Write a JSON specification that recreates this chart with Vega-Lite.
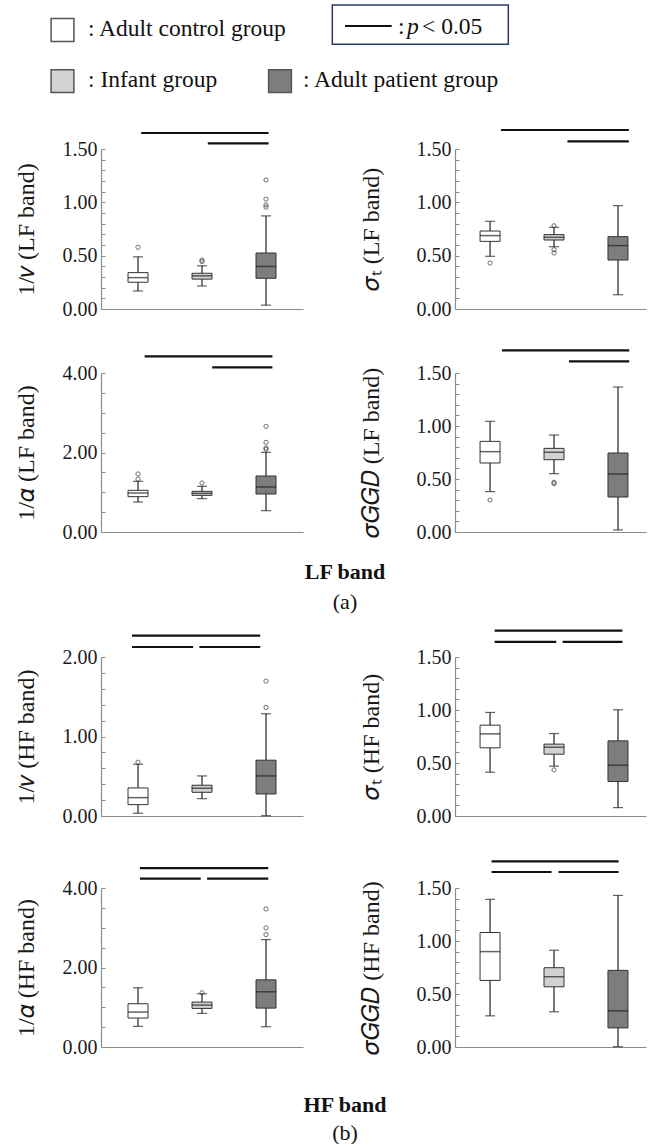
{
"$schema": "https://vega.github.io/schema/vega-lite/v6.json",
"padding": {"left": 14, "top": 4, "right": 0, "bottom": 0},
"background": "white",
"datasets": {
"legend": [
 {"kind":"sq","group":"Adult control group","x":62.5,"y":30},
 {"kind":"sq","group":"Infant group","x":62.5,"y":81.2},
 {"kind":"sq","group":"Adult patient group","x":280,"y":81.2},
 {"kind":"lab","text":": Adult control group","x":88,"y":36},
 {"kind":"lab","text":": Infant group","x":88,"y":86.7},
 {"kind":"lab","text":": Adult patient group","x":303,"y":86.7},
 {"kind":"lab","text":":","x":398,"y":33.5},
 {"kind":"ital","text":"p","x":407,"y":33.5},
 {"kind":"lab","text":"< 0.05","x":422,"y":33.5},
 {"kind":"box","x":332.3,"x2":508.3,"y":5,"y2":44.3},
 {"kind":"line","x":345,"x2":391.7,"y":26}
],
"boxes": [
 {"panel":"p1","group":"Adult control group","idx":1,"lo":0.169,"q1":0.251,"med":0.294,"q3":0.341,"hi":0.489},
 {"panel":"p1","group":"Infant group","idx":2,"lo":0.216,"q1":0.28,"med":0.311,"q3":0.335,"hi":0.405},
 {"panel":"p1","group":"Adult patient group","idx":3,"lo":0.036,"q1":0.288,"med":0.399,"q3":0.525,"hi":0.873},
 {"panel":"p2","group":"Adult control group","idx":1,"lo":0.494,"q1":0.634,"med":0.688,"q3":0.731,"hi":0.822},
 {"panel":"p2","group":"Infant group","idx":2,"lo":0.584,"q1":0.647,"med":0.672,"q3":0.697,"hi":0.766},
 {"panel":"p2","group":"Adult patient group","idx":3,"lo":0.134,"q1":0.459,"med":0.594,"q3":0.678,"hi":0.969},
 {"panel":"p3","group":"Adult control group","idx":1,"lo":0.755,"q1":0.889,"med":0.981,"q3":1.048,"hi":1.275},
 {"panel":"p3","group":"Infant group","idx":2,"lo":0.839,"q1":0.922,"med":0.973,"q3":1.023,"hi":1.149},
 {"panel":"p3","group":"Adult patient group","idx":3,"lo":0.537,"q1":0.956,"med":1.132,"q3":1.409,"hi":2.004},
 {"panel":"p4","group":"Adult control group","idx":1,"lo":0.381,"q1":0.651,"med":0.758,"q3":0.855,"hi":1.044},
 {"panel":"p4","group":"Infant group","idx":2,"lo":0.55,"q1":0.682,"med":0.752,"q3":0.789,"hi":0.915},
 {"panel":"p4","group":"Adult patient group","idx":3,"lo":0.019,"q1":0.33,"med":0.547,"q3":0.745,"hi":1.368},
 {"panel":"p5","group":"Adult control group","idx":1,"lo":0.034,"q1":0.143,"med":0.231,"q3":0.353,"hi":0.651},
 {"panel":"p5","group":"Infant group","idx":2,"lo":0.218,"q1":0.298,"med":0.349,"q3":0.387,"hi":0.504},
 {"panel":"p5","group":"Adult patient group","idx":3,"lo":0.004,"q1":0.277,"med":0.504,"q3":0.702,"hi":1.286},
 {"panel":"p6","group":"Adult control group","idx":1,"lo":0.413,"q1":0.643,"med":0.775,"q3":0.857,"hi":0.977},
 {"panel":"p6","group":"Infant group","idx":2,"lo":0.47,"q1":0.583,"med":0.649,"q3":0.678,"hi":0.778},
 {"panel":"p6","group":"Adult patient group","idx":3,"lo":0.079,"q1":0.325,"med":0.479,"q3":0.709,"hi":1.002},
 {"panel":"p7","group":"Adult control group","idx":1,"lo":0.519,"q1":0.728,"med":0.879,"q3":1.088,"hi":1.49},
 {"panel":"p7","group":"Infant group","idx":2,"lo":0.845,"q1":0.971,"med":1.054,"q3":1.13,"hi":1.339},
 {"panel":"p7","group":"Adult patient group","idx":3,"lo":0.51,"q1":0.979,"med":1.389,"q3":1.69,"hi":2.703},
 {"panel":"p8","group":"Adult control group","idx":1,"lo":0.294,"q1":0.628,"med":0.9,"q3":1.08,"hi":1.393},
 {"panel":"p8","group":"Infant group","idx":2,"lo":0.332,"q1":0.568,"med":0.663,"q3":0.748,"hi":0.913},
 {"panel":"p8","group":"Adult patient group","idx":3,"lo":0.003,"q1":0.18,"med":0.341,"q3":0.723,"hi":1.43}
],
"outliers": [
 {"panel":"p1","idx":1,"v":0.579},{"panel":"p1","idx":2,"v":0.445},{"panel":"p1","idx":2,"v":0.459},
 {"panel":"p1","idx":3,"v":0.955},{"panel":"p1","idx":3,"v":0.975},{"panel":"p1","idx":3,"v":1.03},{"panel":"p1","idx":3,"v":1.21},
 {"panel":"p2","idx":1,"v":0.431},{"panel":"p2","idx":2,"v":0.78},{"panel":"p2","idx":2,"v":0.556},{"panel":"p2","idx":2,"v":0.525},
 {"panel":"p3","idx":1,"v":1.33},{"panel":"p3","idx":1,"v":1.46},{"panel":"p3","idx":2,"v":1.233},
 {"panel":"p3","idx":3,"v":2.08},{"panel":"p3","idx":3,"v":2.113},{"panel":"p3","idx":3,"v":2.256},{"panel":"p3","idx":3,"v":2.658},
 {"panel":"p4","idx":1,"v":0.302},{"panel":"p4","idx":2,"v":0.456},{"panel":"p4","idx":2,"v":0.469},
 {"panel":"p5","idx":1,"v":0.676},{"panel":"p5","idx":3,"v":1.366},{"panel":"p5","idx":3,"v":1.697},
 {"panel":"p6","idx":2,"v":0.435},
 {"panel":"p7","idx":2,"v":1.364},{"panel":"p7","idx":3,"v":2.828},{"panel":"p7","idx":3,"v":2.996},{"panel":"p7","idx":3,"v":3.473}
],
"sig": [
 {"panel":"p1","x1":1.05,"x2":3.04,"y":1.65},{"panel":"p1","x1":2.09,"x2":3.04,"y":1.553},
 {"panel":"p2","x1":1.17,"x2":3.17,"y":1.678},{"panel":"p2","x1":2.21,"x2":3.17,"y":1.572},
 {"panel":"p3","x1":1.104,"x2":3.1,"y":4.419},{"panel":"p3","x1":2.16,"x2":3.1,"y":4.143},
 {"panel":"p4","x1":1.186,"x2":3.176,"y":1.714},{"panel":"p4","x1":2.234,"x2":3.176,"y":1.61},
 {"panel":"p5","x1":0.906,"x2":2.91,"y":2.269},{"panel":"p5","x1":0.906,"x2":1.862,"y":2.126},{"panel":"p5","x1":1.96,"x2":2.91,"y":2.126},
 {"panel":"p6","x1":1.072,"x2":3.07,"y":1.749},{"panel":"p6","x1":1.072,"x2":2.035,"y":1.642},{"panel":"p6","x1":2.134,"x2":3.07,"y":1.642},
 {"panel":"p7","x1":1.03,"x2":3.035,"y":4.502},{"panel":"p7","x1":1.03,"x2":1.98,"y":4.234},{"panel":"p7","x1":2.08,"x2":3.035,"y":4.234},
 {"panel":"p8","x1":1.023,"x2":3.01,"y":1.752},{"panel":"p8","x1":1.023,"x2":1.961,"y":1.651},{"panel":"p8","x1":2.07,"x2":3.01,"y":1.651}
]
},
"vconcat": [
 {
  "width": 547, "height": 90,
  "layer": [
   {"data":{"name":"legend"},"transform":[{"filter":"datum.kind==='box'"}],
    "mark":{"type":"rect","fill":null,"stroke":"#2b3a6b","strokeWidth":1.5},
    "encoding":{"x":{"field":"x","type":"quantitative","scale":{"domain":[101,648],"nice":false,"zero":false},"axis":null},
                "x2":{"field":"x2"},
                "y":{"field":"y","type":"quantitative","scale":{"domain":[4,94],"reverse":true,"nice":false,"zero":false},"axis":null},
                "y2":{"field":"y2"}}},
   {"data":{"name":"legend"},"transform":[{"filter":"datum.kind==='line'"}],
    "mark":{"type":"rule","color":"#111","strokeWidth":2},
    "encoding":{"x":{"field":"x","type":"quantitative"},"x2":{"field":"x2"},"y":{"field":"y","type":"quantitative"}}},
   {"data":{"name":"legend"},"transform":[{"filter":"datum.kind==='sq'"}],
    "mark":{"type":"point","shape":"square","size":520,"filled":true,"stroke":"#555","strokeWidth":1.5,"opacity":1},
    "encoding":{"x":{"field":"x","type":"quantitative"},"y":{"field":"y","type":"quantitative"},
                "fill":{"field":"group","type":"nominal","scale":{"domain":["Adult control group","Infant group","Adult patient group"],"range":["#ffffff","#d2d2d2","#7d7d7d"]},"legend":null}}},
   {"data":{"name":"legend"},"transform":[{"filter":"datum.kind==='lab'"}],
    "mark":{"type":"text","align":"left","baseline":"alphabetic","font":"Liberation Serif","fontSize":23.5,"color":"#111"},
    "encoding":{"x":{"field":"x","type":"quantitative"},"y":{"field":"y","type":"quantitative"},"text":{"field":"text"}}},
   {"data":{"name":"legend"},"transform":[{"filter":"datum.kind==='ital'"}],
    "mark":{"type":"text","align":"left","baseline":"alphabetic","font":"Liberation Serif","fontStyle":"italic","fontSize":23.5,"color":"#111"},
    "encoding":{"x":{"field":"x","type":"quantitative"},"y":{"field":"y","type":"quantitative"},"text":{"field":"text"}}}
  ]
 },
 {
  "spacing": 16,
  "vconcat": [
   {
    "spacing": 30,
    "title": {"text":"LF band","subtitle":"(a)","orient":"bottom","anchor":"middle","offset":20,"dx":15,"font":"Liberation Serif","fontSize":22,"fontWeight":"bold","color":"#111","subtitleFont":"Liberation Serif","subtitleFontSize":22,"subtitleColor":"#111","subtitlePadding":8},
    "vconcat": [
     {"spacing": 56, "hconcat": [
      {"width":202,"height":160,"layer":[
        {"data":{"name":"boxes"},"transform":[{"filter":"datum.panel==='p1'"}],"mark":{"type":"rule","color":"#222","strokeWidth":1.2},
         "encoding":{"x":{"field":"idx","type":"quantitative","scale":{"domain":[0.5,3.5],"nice":false,"zero":false},"axis":{"title":null,"labels":false,"ticks":false}},
                     "y":{"field":"lo","type":"quantitative","scale":{"domain":[0,1.5],"nice":false,"zero":false},"axis":{"title":"1/𝑣 (LF band)","titlePadding":23,"tickCount":100,"labelOverlap":false,"values":[0,0.1,0.2,0.3,0.4,0.5,0.6,0.7,0.8,0.9,1,1.1,1.2,1.3,1.4,1.5],"labelExpr":"abs(round(datum.value*2)-datum.value*2)<0.001 ? format(datum.value,'.2f') : ''"}},
                     "y2":{"field":"hi"}}},
        {"data":{"name":"boxes"},"transform":[{"filter":"datum.panel==='p1'"}],"mark":{"type":"tick","orient":"horizontal","size":10,"thickness":1.2,"color":"#222"},"encoding":{"x":{"field":"idx","type":"quantitative"},"y":{"field":"lo","type":"quantitative"}}},
        {"data":{"name":"boxes"},"transform":[{"filter":"datum.panel==='p1'"}],"mark":{"type":"tick","orient":"horizontal","size":10,"thickness":1.2,"color":"#222"},"encoding":{"x":{"field":"idx","type":"quantitative"},"y":{"field":"hi","type":"quantitative"}}},
        {"data":{"name":"boxes"},"transform":[{"filter":"datum.panel==='p1'"}],"mark":{"type":"bar","size":20,"stroke":"#333","strokeWidth":1},"encoding":{"x":{"field":"idx","type":"quantitative"},"y":{"field":"q1","type":"quantitative"},"y2":{"field":"q3"},"fill":{"field":"group","type":"nominal","legend":null}}},
        {"data":{"name":"boxes"},"transform":[{"filter":"datum.panel==='p1'"}],"mark":{"type":"tick","orient":"horizontal","size":20,"thickness":1.5,"color":"#222"},"encoding":{"x":{"field":"idx","type":"quantitative"},"y":{"field":"med","type":"quantitative"}}},
        {"data":{"name":"outliers"},"transform":[{"filter":"datum.panel==='p1'"}],"mark":{"type":"point","shape":"circle","size":18,"filled":false,"stroke":"#333","strokeWidth":1},"encoding":{"x":{"field":"idx","type":"quantitative"},"y":{"field":"v","type":"quantitative"}}},
        {"data":{"name":"sig"},"transform":[{"filter":"datum.panel==='p1'"}],"mark":{"type":"rule","color":"#111","strokeWidth":2.2},"encoding":{"x":{"field":"x1","type":"quantitative"},"x2":{"field":"x2"},"y":{"field":"y","type":"quantitative"}}}
      ]},
      {"width":191,"height":160,"layer":[
        {"data":{"name":"boxes"},"transform":[{"filter":"datum.panel==='p2'"}],"mark":{"type":"rule","color":"#222","strokeWidth":1.2},
         "encoding":{"x":{"field":"idx","type":"quantitative","scale":{"domain":[0.53,3.36],"nice":false,"zero":false},"axis":{"title":null,"labels":false,"ticks":false}},
                     "y":{"field":"lo","type":"quantitative","scale":{"domain":[0,1.5],"nice":false,"zero":false},"axis":{"title":"𝜎ₜ (LF band)","titlePadding":32,"tickCount":100,"labelOverlap":false,"values":[0,0.1,0.2,0.3,0.4,0.5,0.6,0.7,0.8,0.9,1,1.1,1.2,1.3,1.4,1.5],"labelExpr":"abs(round(datum.value*2)-datum.value*2)<0.001 ? format(datum.value,'.2f') : ''"}},
                     "y2":{"field":"hi"}}},
        {"data":{"name":"boxes"},"transform":[{"filter":"datum.panel==='p2'"}],"mark":{"type":"tick","orient":"horizontal","size":10,"thickness":1.2,"color":"#222"},"encoding":{"x":{"field":"idx","type":"quantitative"},"y":{"field":"lo","type":"quantitative"}}},
        {"data":{"name":"boxes"},"transform":[{"filter":"datum.panel==='p2'"}],"mark":{"type":"tick","orient":"horizontal","size":10,"thickness":1.2,"color":"#222"},"encoding":{"x":{"field":"idx","type":"quantitative"},"y":{"field":"hi","type":"quantitative"}}},
        {"data":{"name":"boxes"},"transform":[{"filter":"datum.panel==='p2'"}],"mark":{"type":"bar","size":20,"stroke":"#333","strokeWidth":1},"encoding":{"x":{"field":"idx","type":"quantitative"},"y":{"field":"q1","type":"quantitative"},"y2":{"field":"q3"},"fill":{"field":"group","type":"nominal","legend":null}}},
        {"data":{"name":"boxes"},"transform":[{"filter":"datum.panel==='p2'"}],"mark":{"type":"tick","orient":"horizontal","size":20,"thickness":1.5,"color":"#222"},"encoding":{"x":{"field":"idx","type":"quantitative"},"y":{"field":"med","type":"quantitative"}}},
        {"data":{"name":"outliers"},"transform":[{"filter":"datum.panel==='p2'"}],"mark":{"type":"point","shape":"circle","size":18,"filled":false,"stroke":"#333","strokeWidth":1},"encoding":{"x":{"field":"idx","type":"quantitative"},"y":{"field":"v","type":"quantitative"}}},
        {"data":{"name":"sig"},"transform":[{"filter":"datum.panel==='p2'"}],"mark":{"type":"rule","color":"#111","strokeWidth":2.2},"encoding":{"x":{"field":"x1","type":"quantitative"},"x2":{"field":"x2"},"y":{"field":"y","type":"quantitative"}}}
      ]}
     ]},
     {"spacing": 56, "hconcat": [
      {"width":202,"height":159,"layer":[
        {"data":{"name":"boxes"},"transform":[{"filter":"datum.panel==='p3'"}],"mark":{"type":"rule","color":"#222","strokeWidth":1.2},
         "encoding":{"x":{"field":"idx","type":"quantitative","scale":{"domain":[0.5,3.5],"nice":false,"zero":false},"axis":{"title":null,"labels":false,"ticks":false}},
                     "y":{"field":"lo","type":"quantitative","scale":{"domain":[0,4],"nice":false,"zero":false},"axis":{"title":"1/𝛼 (LF band)","titlePadding":23,"tickCount":100,"labelOverlap":false,"values":[0,0.5,1,1.5,2,2.5,3,3.5,4],"labelExpr":"abs(round(datum.value*0.5)-datum.value*0.5)<0.001 ? format(datum.value,'.2f') : ''"}},
                     "y2":{"field":"hi"}}},
        {"data":{"name":"boxes"},"transform":[{"filter":"datum.panel==='p3'"}],"mark":{"type":"tick","orient":"horizontal","size":10,"thickness":1.2,"color":"#222"},"encoding":{"x":{"field":"idx","type":"quantitative"},"y":{"field":"lo","type":"quantitative"}}},
        {"data":{"name":"boxes"},"transform":[{"filter":"datum.panel==='p3'"}],"mark":{"type":"tick","orient":"horizontal","size":10,"thickness":1.2,"color":"#222"},"encoding":{"x":{"field":"idx","type":"quantitative"},"y":{"field":"hi","type":"quantitative"}}},
        {"data":{"name":"boxes"},"transform":[{"filter":"datum.panel==='p3'"}],"mark":{"type":"bar","size":20,"stroke":"#333","strokeWidth":1},"encoding":{"x":{"field":"idx","type":"quantitative"},"y":{"field":"q1","type":"quantitative"},"y2":{"field":"q3"},"fill":{"field":"group","type":"nominal","legend":null}}},
        {"data":{"name":"boxes"},"transform":[{"filter":"datum.panel==='p3'"}],"mark":{"type":"tick","orient":"horizontal","size":20,"thickness":1.5,"color":"#222"},"encoding":{"x":{"field":"idx","type":"quantitative"},"y":{"field":"med","type":"quantitative"}}},
        {"data":{"name":"outliers"},"transform":[{"filter":"datum.panel==='p3'"}],"mark":{"type":"point","shape":"circle","size":18,"filled":false,"stroke":"#333","strokeWidth":1},"encoding":{"x":{"field":"idx","type":"quantitative"},"y":{"field":"v","type":"quantitative"}}},
        {"data":{"name":"sig"},"transform":[{"filter":"datum.panel==='p3'"}],"mark":{"type":"rule","color":"#111","strokeWidth":2.2},"encoding":{"x":{"field":"x1","type":"quantitative"},"x2":{"field":"x2"},"y":{"field":"y","type":"quantitative"}}}
      ]},
      {"width":191,"height":159,"layer":[
        {"data":{"name":"boxes"},"transform":[{"filter":"datum.panel==='p4'"}],"mark":{"type":"rule","color":"#222","strokeWidth":1.2},
         "encoding":{"x":{"field":"idx","type":"quantitative","scale":{"domain":[0.53,3.36],"nice":false,"zero":false},"axis":{"title":null,"labels":false,"ticks":false}},
                     "y":{"field":"lo","type":"quantitative","scale":{"domain":[0,1.5],"nice":false,"zero":false},"axis":{"title":"𝜎𝐺𝐺𝐷 (LF band)","titlePadding":32,"tickCount":100,"labelOverlap":false,"values":[0,0.1,0.2,0.3,0.4,0.5,0.6,0.7,0.8,0.9,1,1.1,1.2,1.3,1.4,1.5],"labelExpr":"abs(round(datum.value*2)-datum.value*2)<0.001 ? format(datum.value,'.2f') : ''"}},
                     "y2":{"field":"hi"}}},
        {"data":{"name":"boxes"},"transform":[{"filter":"datum.panel==='p4'"}],"mark":{"type":"tick","orient":"horizontal","size":10,"thickness":1.2,"color":"#222"},"encoding":{"x":{"field":"idx","type":"quantitative"},"y":{"field":"lo","type":"quantitative"}}},
        {"data":{"name":"boxes"},"transform":[{"filter":"datum.panel==='p4'"}],"mark":{"type":"tick","orient":"horizontal","size":10,"thickness":1.2,"color":"#222"},"encoding":{"x":{"field":"idx","type":"quantitative"},"y":{"field":"hi","type":"quantitative"}}},
        {"data":{"name":"boxes"},"transform":[{"filter":"datum.panel==='p4'"}],"mark":{"type":"bar","size":20,"stroke":"#333","strokeWidth":1},"encoding":{"x":{"field":"idx","type":"quantitative"},"y":{"field":"q1","type":"quantitative"},"y2":{"field":"q3"},"fill":{"field":"group","type":"nominal","legend":null}}},
        {"data":{"name":"boxes"},"transform":[{"filter":"datum.panel==='p4'"}],"mark":{"type":"tick","orient":"horizontal","size":20,"thickness":1.5,"color":"#222"},"encoding":{"x":{"field":"idx","type":"quantitative"},"y":{"field":"med","type":"quantitative"}}},
        {"data":{"name":"outliers"},"transform":[{"filter":"datum.panel==='p4'"}],"mark":{"type":"point","shape":"circle","size":18,"filled":false,"stroke":"#333","strokeWidth":1},"encoding":{"x":{"field":"idx","type":"quantitative"},"y":{"field":"v","type":"quantitative"}}},
        {"data":{"name":"sig"},"transform":[{"filter":"datum.panel==='p4'"}],"mark":{"type":"rule","color":"#111","strokeWidth":2.2},"encoding":{"x":{"field":"x1","type":"quantitative"},"x2":{"field":"x2"},"y":{"field":"y","type":"quantitative"}}}
      ]}
     ]}
    ]
   },
   {
    "spacing": 34,
    "title": {"text":"HF band","subtitle":"(b)","orient":"bottom","anchor":"middle","offset":38,"dx":15,"font":"Liberation Serif","fontSize":22,"fontWeight":"bold","color":"#111","subtitleFont":"Liberation Serif","subtitleFontSize":22,"subtitleColor":"#111","subtitlePadding":6},
    "vconcat": [
     {"spacing": 56, "hconcat": [
      {"width":202,"height":159,"layer":[
        {"data":{"name":"boxes"},"transform":[{"filter":"datum.panel==='p5'"}],"mark":{"type":"rule","color":"#222","strokeWidth":1.2},
         "encoding":{"x":{"field":"idx","type":"quantitative","scale":{"domain":[0.5,3.5],"nice":false,"zero":false},"axis":{"title":null,"labels":false,"ticks":false}},
                     "y":{"field":"lo","type":"quantitative","scale":{"domain":[0,2],"nice":false,"zero":false},"axis":{"title":"1/𝑣 (HF band)","titlePadding":23,"tickCount":100,"labelOverlap":false,"values":[0,0.2,0.4,0.6,0.8,1,1.2,1.4,1.6,1.8,2],"labelExpr":"abs(round(datum.value)-datum.value)<0.001 ? format(datum.value,'.2f') : ''"}},
                     "y2":{"field":"hi"}}},
        {"data":{"name":"boxes"},"transform":[{"filter":"datum.panel==='p5'"}],"mark":{"type":"tick","orient":"horizontal","size":10,"thickness":1.2,"color":"#222"},"encoding":{"x":{"field":"idx","type":"quantitative"},"y":{"field":"lo","type":"quantitative"}}},
        {"data":{"name":"boxes"},"transform":[{"filter":"datum.panel==='p5'"}],"mark":{"type":"tick","orient":"horizontal","size":10,"thickness":1.2,"color":"#222"},"encoding":{"x":{"field":"idx","type":"quantitative"},"y":{"field":"hi","type":"quantitative"}}},
        {"data":{"name":"boxes"},"transform":[{"filter":"datum.panel==='p5'"}],"mark":{"type":"bar","size":20,"stroke":"#333","strokeWidth":1},"encoding":{"x":{"field":"idx","type":"quantitative"},"y":{"field":"q1","type":"quantitative"},"y2":{"field":"q3"},"fill":{"field":"group","type":"nominal","legend":null}}},
        {"data":{"name":"boxes"},"transform":[{"filter":"datum.panel==='p5'"}],"mark":{"type":"tick","orient":"horizontal","size":20,"thickness":1.5,"color":"#222"},"encoding":{"x":{"field":"idx","type":"quantitative"},"y":{"field":"med","type":"quantitative"}}},
        {"data":{"name":"outliers"},"transform":[{"filter":"datum.panel==='p5'"}],"mark":{"type":"point","shape":"circle","size":18,"filled":false,"stroke":"#333","strokeWidth":1},"encoding":{"x":{"field":"idx","type":"quantitative"},"y":{"field":"v","type":"quantitative"}}},
        {"data":{"name":"sig"},"transform":[{"filter":"datum.panel==='p5'"}],"mark":{"type":"rule","color":"#111","strokeWidth":2.2},"encoding":{"x":{"field":"x1","type":"quantitative"},"x2":{"field":"x2"},"y":{"field":"y","type":"quantitative"}}}
      ]},
      {"width":191,"height":159,"layer":[
        {"data":{"name":"boxes"},"transform":[{"filter":"datum.panel==='p6'"}],"mark":{"type":"rule","color":"#222","strokeWidth":1.2},
         "encoding":{"x":{"field":"idx","type":"quantitative","scale":{"domain":[0.53,3.36],"nice":false,"zero":false},"axis":{"title":null,"labels":false,"ticks":false}},
                     "y":{"field":"lo","type":"quantitative","scale":{"domain":[0,1.5],"nice":false,"zero":false},"axis":{"title":"𝜎ₜ (HF band)","titlePadding":32,"tickCount":100,"labelOverlap":false,"values":[0,0.1,0.2,0.3,0.4,0.5,0.6,0.7,0.8,0.9,1,1.1,1.2,1.3,1.4,1.5],"labelExpr":"abs(round(datum.value*2)-datum.value*2)<0.001 ? format(datum.value,'.2f') : ''"}},
                     "y2":{"field":"hi"}}},
        {"data":{"name":"boxes"},"transform":[{"filter":"datum.panel==='p6'"}],"mark":{"type":"tick","orient":"horizontal","size":10,"thickness":1.2,"color":"#222"},"encoding":{"x":{"field":"idx","type":"quantitative"},"y":{"field":"lo","type":"quantitative"}}},
        {"data":{"name":"boxes"},"transform":[{"filter":"datum.panel==='p6'"}],"mark":{"type":"tick","orient":"horizontal","size":10,"thickness":1.2,"color":"#222"},"encoding":{"x":{"field":"idx","type":"quantitative"},"y":{"field":"hi","type":"quantitative"}}},
        {"data":{"name":"boxes"},"transform":[{"filter":"datum.panel==='p6'"}],"mark":{"type":"bar","size":20,"stroke":"#333","strokeWidth":1},"encoding":{"x":{"field":"idx","type":"quantitative"},"y":{"field":"q1","type":"quantitative"},"y2":{"field":"q3"},"fill":{"field":"group","type":"nominal","legend":null}}},
        {"data":{"name":"boxes"},"transform":[{"filter":"datum.panel==='p6'"}],"mark":{"type":"tick","orient":"horizontal","size":20,"thickness":1.5,"color":"#222"},"encoding":{"x":{"field":"idx","type":"quantitative"},"y":{"field":"med","type":"quantitative"}}},
        {"data":{"name":"outliers"},"transform":[{"filter":"datum.panel==='p6'"}],"mark":{"type":"point","shape":"circle","size":18,"filled":false,"stroke":"#333","strokeWidth":1},"encoding":{"x":{"field":"idx","type":"quantitative"},"y":{"field":"v","type":"quantitative"}}},
        {"data":{"name":"sig"},"transform":[{"filter":"datum.panel==='p6'"}],"mark":{"type":"rule","color":"#111","strokeWidth":2.2},"encoding":{"x":{"field":"x1","type":"quantitative"},"x2":{"field":"x2"},"y":{"field":"y","type":"quantitative"}}}
      ]}
     ]},
     {"spacing": 56, "hconcat": [
      {"width":202,"height":159,"layer":[
        {"data":{"name":"boxes"},"transform":[{"filter":"datum.panel==='p7'"}],"mark":{"type":"rule","color":"#222","strokeWidth":1.2},
         "encoding":{"x":{"field":"idx","type":"quantitative","scale":{"domain":[0.5,3.5],"nice":false,"zero":false},"axis":{"title":null,"labels":false,"ticks":false}},
                     "y":{"field":"lo","type":"quantitative","scale":{"domain":[0,4],"nice":false,"zero":false},"axis":{"title":"1/𝛼 (HF band)","titlePadding":23,"tickCount":100,"labelOverlap":false,"values":[0,0.5,1,1.5,2,2.5,3,3.5,4],"labelExpr":"abs(round(datum.value*0.5)-datum.value*0.5)<0.001 ? format(datum.value,'.2f') : ''"}},
                     "y2":{"field":"hi"}}},
        {"data":{"name":"boxes"},"transform":[{"filter":"datum.panel==='p7'"}],"mark":{"type":"tick","orient":"horizontal","size":10,"thickness":1.2,"color":"#222"},"encoding":{"x":{"field":"idx","type":"quantitative"},"y":{"field":"lo","type":"quantitative"}}},
        {"data":{"name":"boxes"},"transform":[{"filter":"datum.panel==='p7'"}],"mark":{"type":"tick","orient":"horizontal","size":10,"thickness":1.2,"color":"#222"},"encoding":{"x":{"field":"idx","type":"quantitative"},"y":{"field":"hi","type":"quantitative"}}},
        {"data":{"name":"boxes"},"transform":[{"filter":"datum.panel==='p7'"}],"mark":{"type":"bar","size":20,"stroke":"#333","strokeWidth":1},"encoding":{"x":{"field":"idx","type":"quantitative"},"y":{"field":"q1","type":"quantitative"},"y2":{"field":"q3"},"fill":{"field":"group","type":"nominal","legend":null}}},
        {"data":{"name":"boxes"},"transform":[{"filter":"datum.panel==='p7'"}],"mark":{"type":"tick","orient":"horizontal","size":20,"thickness":1.5,"color":"#222"},"encoding":{"x":{"field":"idx","type":"quantitative"},"y":{"field":"med","type":"quantitative"}}},
        {"data":{"name":"outliers"},"transform":[{"filter":"datum.panel==='p7'"}],"mark":{"type":"point","shape":"circle","size":18,"filled":false,"stroke":"#333","strokeWidth":1},"encoding":{"x":{"field":"idx","type":"quantitative"},"y":{"field":"v","type":"quantitative"}}},
        {"data":{"name":"sig"},"transform":[{"filter":"datum.panel==='p7'"}],"mark":{"type":"rule","color":"#111","strokeWidth":2.2},"encoding":{"x":{"field":"x1","type":"quantitative"},"x2":{"field":"x2"},"y":{"field":"y","type":"quantitative"}}}
      ]},
      {"width":191,"height":159,"layer":[
        {"data":{"name":"boxes"},"transform":[{"filter":"datum.panel==='p8'"}],"mark":{"type":"rule","color":"#222","strokeWidth":1.2},
         "encoding":{"x":{"field":"idx","type":"quantitative","scale":{"domain":[0.53,3.36],"nice":false,"zero":false},"axis":{"title":null,"labels":false,"ticks":false}},
                     "y":{"field":"lo","type":"quantitative","scale":{"domain":[0,1.5],"nice":false,"zero":false},"axis":{"title":"𝜎𝐺𝐺𝐷 (HF band)","titlePadding":32,"tickCount":100,"labelOverlap":false,"values":[0,0.1,0.2,0.3,0.4,0.5,0.6,0.7,0.8,0.9,1,1.1,1.2,1.3,1.4,1.5],"labelExpr":"abs(round(datum.value*2)-datum.value*2)<0.001 ? format(datum.value,'.2f') : ''"}},
                     "y2":{"field":"hi"}}},
        {"data":{"name":"boxes"},"transform":[{"filter":"datum.panel==='p8'"}],"mark":{"type":"tick","orient":"horizontal","size":10,"thickness":1.2,"color":"#222"},"encoding":{"x":{"field":"idx","type":"quantitative"},"y":{"field":"lo","type":"quantitative"}}},
        {"data":{"name":"boxes"},"transform":[{"filter":"datum.panel==='p8'"}],"mark":{"type":"tick","orient":"horizontal","size":10,"thickness":1.2,"color":"#222"},"encoding":{"x":{"field":"idx","type":"quantitative"},"y":{"field":"hi","type":"quantitative"}}},
        {"data":{"name":"boxes"},"transform":[{"filter":"datum.panel==='p8'"}],"mark":{"type":"bar","size":20,"stroke":"#333","strokeWidth":1},"encoding":{"x":{"field":"idx","type":"quantitative"},"y":{"field":"q1","type":"quantitative"},"y2":{"field":"q3"},"fill":{"field":"group","type":"nominal","legend":null}}},
        {"data":{"name":"boxes"},"transform":[{"filter":"datum.panel==='p8'"}],"mark":{"type":"tick","orient":"horizontal","size":20,"thickness":1.5,"color":"#222"},"encoding":{"x":{"field":"idx","type":"quantitative"},"y":{"field":"med","type":"quantitative"}}},
        {"data":{"name":"sig"},"transform":[{"filter":"datum.panel==='p8'"}],"mark":{"type":"rule","color":"#111","strokeWidth":2.2},"encoding":{"x":{"field":"x1","type":"quantitative"},"x2":{"field":"x2"},"y":{"field":"y","type":"quantitative"}}}
      ]}
     ]}
    ]
   }
  ]
 }
],
"spacing": 32,
"config": {
 "view": {"stroke": null},
 "axis": {"grid": false, "domainColor": "#8c8c8c", "domainWidth": 1.2, "tickColor": "#8c8c8c", "tickWidth": 1,
          "labelFont": "Liberation Serif", "labelFontSize": 20, "labelColor": "#1a1a1a",
          "titleFont": "Liberation Serif", "titleFontSize": 24, "titleFontWeight": "normal", "titleColor": "#1a1a1a"},
 "axisY": {"tickSize": -4, "labelPadding": 8, "minExtent": 40, "maxExtent": 40, "labelOverlap": false}
}
}
